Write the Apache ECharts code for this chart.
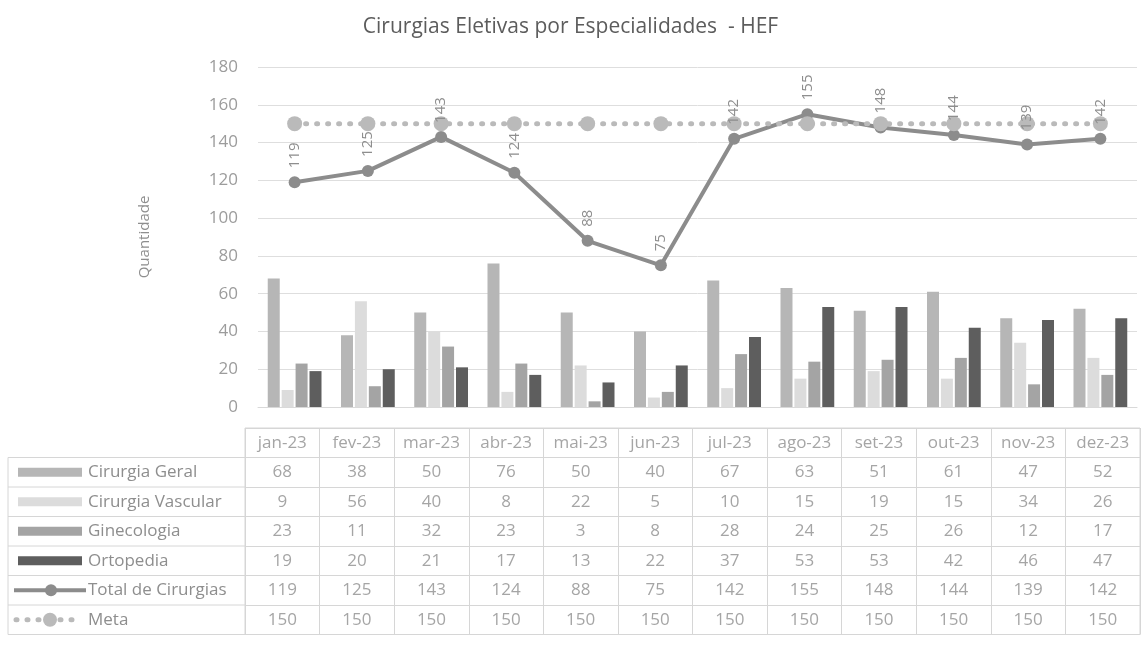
<!DOCTYPE html>
<html>
<head>
<meta charset="utf-8">
<script src="https://cdn.jsdelivr.net/npm/echarts@6/dist/echarts.min.js"></script>
<style>
html,body{margin:0;padding:0;background:#fff;}
#chart{width:1141px;height:654px;}
</style>
</head>
<body>
<div id="chart"></div>
<script>
const months = ['jan-23','fev-23','mar-23','abr-23','mai-23','jun-23','jul-23','ago-23','set-23','out-23','nov-23','dez-23'];
const seriesNames = ['Cirurgia Geral','Cirurgia Vascular','Ginecologia','Ortopedia','Total de Cirurgias','Meta'];
const geral    = [68, 38, 50, 76, 50, 40, 67, 63, 51, 61, 47, 52];
const vascular = [9, 56, 40, 8, 22, 5, 10, 15, 19, 15, 34, 26];
const gineco   = [23, 11, 32, 23, 3, 8, 28, 24, 25, 26, 12, 17];
const orto     = [19, 20, 21, 17, 13, 22, 37, 53, 53, 42, 46, 47];
const total    = [119, 125, 143, 124, 88, 75, 142, 155, 148, 144, 139, 142];
const meta     = [150, 150, 150, 150, 150, 150, 150, 150, 150, 150, 150, 150];
const yMin = 0, yMax = 180, yStep = 20;

const FONT = 'Open Sans';
const colors = ['#b6b6b6', '#dcdcdc', '#a4a4a4', '#5e5e5e', '#8c8c8c', '#bababa'];
const textColor = '#8e8e8e';
const borderColor = '#d6d6d6';

// table layout
const tLeft = 245, tTop = 428, rowH = 29.5, nRows = 7, legLeft = 8;
const tableRows = [geral, vascular, gineco, orto, total, meta];

const tableData = [];
months.forEach((m, i) => tableData.push([i, 0, m]));
tableRows.forEach((arr, r) => arr.forEach((v, i) => tableData.push([i, r + 1, String(v)])));

// legend column graphics
const graphic = [];
const tBottom = tTop + rowH * nRows;
graphic.push({type:'line', shape:{x1:legLeft, y1:tTop + rowH, x2:legLeft, y2:tBottom}, style:{stroke:borderColor, lineWidth:1}});
for (let r = 1; r <= nRows; r++) {
  const y = tTop + rowH * r;
  graphic.push({type:'line', shape:{x1:legLeft, y1:y, x2:tLeft, y2:y}, style:{stroke:borderColor, lineWidth:1}});
}
seriesNames.forEach((name, k) => {
  const cy = tTop + rowH * (k + 1.5);
  if (k < 4) {
    graphic.push({type:'rect', shape:{x:18, y:cy - 4.5, width:64, height:9}, style:{fill:colors[k]}});
  } else if (k === 4) {
    graphic.push({type:'line', shape:{x1:14, y1:cy, x2:86, y2:cy}, style:{stroke:colors[4], lineWidth:4}});
    graphic.push({type:'circle', shape:{cx:51, cy:cy, r:6}, style:{fill:colors[4]}});
  } else {
    graphic.push({type:'line', shape:{x1:16, y1:cy, x2:82, y2:cy}, style:{stroke:colors[5], lineWidth:5, lineDash:[1, 10], lineCap:'round'}});
    graphic.push({type:'circle', shape:{cx:50, cy:cy, r:7}, style:{fill:colors[5]}});
  }
});

const barNames = seriesNames.slice(0, 4);
const barData = [geral, vascular, gineco, orto];

const option = {
  backgroundColor: '#ffffff',
  animation: false,
  title: {
    text: 'Cirurgias Eletivas por Especialidades  - HEF',
    left: 'center', top: 12,
    textStyle: {fontFamily: FONT, fontSize: 21, fontWeight: 'normal', color: '#5c5c5c'}
  },
  grid: [
    {left: 258, right: 4, top: 67, bottom: 247, containLabel: false},
    {left: tLeft, right: 1, top: tTop, height: rowH * nRows, containLabel: false, show: true, borderColor: borderColor, borderWidth: 1}
  ],
  xAxis: [
    {type: 'category', gridIndex: 0, data: months, axisLabel: {show: false}, axisTick: {show: false},
     axisLine: {show: true, lineStyle: {color: '#d9d9d9'}}},
    {type: 'category', gridIndex: 1, data: months, axisLabel: {show: false}, axisTick: {show: false},
     axisLine: {show: false}, splitLine: {show: true, interval: 0, lineStyle: {color: borderColor}}}
  ],
  yAxis: [
    {type: 'value', gridIndex: 0, min: yMin, max: yMax, interval: yStep,
     name: 'Quantidade', nameLocation: 'middle', nameGap: 106,
     nameTextStyle: {fontFamily: FONT, fontSize: 15, color: textColor},
     axisLabel: {margin: 20, fontFamily: FONT, fontSize: 17, color: '#9c9c9c'},
     axisLine: {show: false}, axisTick: {show: false},
     splitLine: {lineStyle: {color: '#dedede'}}},
    {type: 'category', gridIndex: 1, inverse: true, data: [''].concat(seriesNames),
     axisLine: {show: false}, axisTick: {show: false},
     axisLabel: {show: true, interval: 0, align: 'left', margin: 157, fontFamily: FONT, fontSize: 17, color: textColor},
     splitLine: {show: true, interval: 0, lineStyle: {color: borderColor}}}
  ],
  series: [
    ...barNames.map((n, k) => ({
      name: n, type: 'bar', xAxisIndex: 0, yAxisIndex: 0, data: barData[k],
      barWidth: 12, barGap: '16%', itemStyle: {color: colors[k]}
    })),
    {
      name: 'Total de Cirurgias', type: 'line', xAxisIndex: 0, yAxisIndex: 0, data: total,
      symbol: 'circle', symbolSize: 12,
      lineStyle: {color: colors[4], width: 4}, itemStyle: {color: colors[4]},
      label: {show: true, position: 'top', rotate: 90, align: 'left', verticalAlign: 'middle', distance: 8,
              fontFamily: FONT, fontSize: 15, color: textColor}
    },
    {
      name: 'Meta', type: 'line', xAxisIndex: 0, yAxisIndex: 0, data: meta,
      symbol: 'circle', symbolSize: 15,
      lineStyle: {color: colors[5], width: 5, type: [1, 10], cap: 'round'}, itemStyle: {color: colors[5]}
    },
    {
      name: 'tabela', type: 'scatter', xAxisIndex: 1, yAxisIndex: 1, data: tableData,
      symbolSize: 0, silent: true,
      label: {show: true, position: 'inside', formatter: p => p.data[2],
              fontFamily: FONT, fontSize: 17, color: textColor}
    }
  ],
  graphic: graphic
};

const chart = echarts.init(document.getElementById('chart'), null, {renderer: 'canvas'});
chart.setOption(option);
</script>
</body>
</html>
